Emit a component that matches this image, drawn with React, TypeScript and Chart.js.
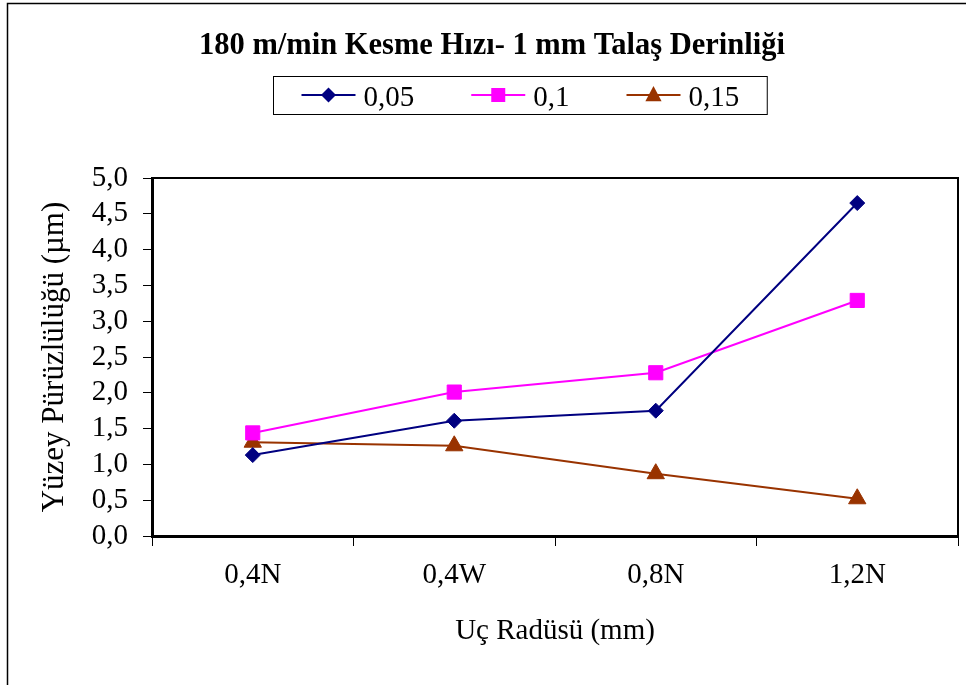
import React, { useEffect, useRef } from "react";
import { Chart, registerables } from "chart.js";

Chart.register(...registerables);

const categories = ["0,4N", "0,4W", "0,8N", "1,2N"];
const seriesLabels = ["0,05", "0,1", "0,15"];
const values005 = [1.13, 1.61, 1.75, 4.65];
const values01 = [1.44, 2.01, 2.28, 3.29];
const values015 = [1.31, 1.26, 0.87, 0.52];
const seriesColors = ["#000080", "#FF00FF", "#993300"];
const seriesMarkers = ["rectRot", "rect", "triangle"];
const yMin = 0;
const yMax = 5;
const yStep = 0.5;

const chartTitle = "180 m/min Kesme Hızı- 1 mm Talaş Derinliği";
const xTitle = "Uç Radüsü (mm)";
const yTitle = "Yüzey Pürüzlülüğü (µm)";

const SERIF = '"Liberation Serif", "Times New Roman", serif';

function drawMarker(ctx: CanvasRenderingContext2D, kind: string, x: number, y: number, color: string) {
  ctx.save();
  ctx.fillStyle = color;
  ctx.beginPath();
  if (kind === "rectRot") {
    const r = 7.5;
    ctx.moveTo(x, y - r);
    ctx.lineTo(x + r, y);
    ctx.lineTo(x, y + r);
    ctx.lineTo(x - r, y);
    ctx.closePath();
  } else if (kind === "rect") {
    const h = 7;
    ctx.rect(x - h, y - h, 2 * h, 2 * h);
  } else {
    const r = 9;
    ctx.moveTo(x, y - r);
    ctx.lineTo(x + r * 0.9, y + r * 0.7);
    ctx.lineTo(x - r * 0.9, y + r * 0.7);
    ctx.closePath();
  }
  ctx.fill();
  ctx.restore();
}

const decorPlugin = {
  id: "decor",
  beforeDatasetsDraw(chart: any) {
    const ctx: CanvasRenderingContext2D = chart.ctx;
    const { left, top, right, bottom } = chart.chartArea;
    ctx.save();
    ctx.strokeStyle = "#000";
    ctx.lineWidth = 2;
    ctx.strokeRect(left, top, right - left, bottom - top);
    ctx.restore();
  },
  afterDraw(chart: any) {
    const ctx: CanvasRenderingContext2D = chart.ctx;
    ctx.save();
    // outer frame
    ctx.strokeStyle = "#000";
    ctx.lineWidth = 1.5;
    ctx.beginPath();
    ctx.moveTo(7.5, 690);
    ctx.lineTo(7.5, 3.5);
    ctx.lineTo(966, 3.5);
    ctx.stroke();

    // title
    ctx.fillStyle = "#000";
    ctx.font = `bold 30.5px ${SERIF}`;
    ctx.textAlign = "center";
    ctx.textBaseline = "alphabetic";
    ctx.fillText(chartTitle, 492, 54);

    // legend
    ctx.font = `29px ${SERIF}`;
    const lineLen = 54;
    const gapText = 8;
    const gapItem = 57;
    const widths = seriesLabels.map((t) => ctx.measureText(t).width);
    const total = widths.reduce((a, w) => a + lineLen + gapText + w, 0) + gapItem * (seriesLabels.length - 1);
    const padX = 28;
    const boxW = total + 2 * padX;
    const cx = 520;
    const boxL = Math.round(cx - boxW / 2) + 0.5;
    ctx.lineWidth = 1;
    ctx.strokeStyle = "#000";
    ctx.strokeRect(boxL, 76.5, boxW, 38);
    let x = boxL + padX;
    const ly = 95;
    seriesLabels.forEach((t, i) => {
      ctx.strokeStyle = seriesColors[i];
      ctx.lineWidth = 2;
      ctx.beginPath();
      ctx.moveTo(x, ly);
      ctx.lineTo(x + lineLen, ly);
      ctx.stroke();
      drawMarker(ctx, seriesMarkers[i], x + lineLen / 2, ly, seriesColors[i]);
      x += lineLen + gapText;
      ctx.fillStyle = "#000";
      ctx.textAlign = "left";
      ctx.textBaseline = "alphabetic";
      ctx.fillText(t, x, 106);
      x += widths[i] + gapItem;
    });
    ctx.restore();
  },
};

export default function App() {
  const canvasRef = useRef<HTMLCanvasElement | null>(null);

  useEffect(() => {
    if (!canvasRef.current) return;
    const allValues = [values005, values01, values015];
    const chart = new Chart(canvasRef.current, {
      type: "line",
      data: {
        labels: categories,
        datasets: seriesLabels.map((label, i) => ({
          label,
          data: allValues[i],
          borderColor: seriesColors[i],
          backgroundColor: seriesColors[i],
          borderWidth: 2,
          pointStyle: seriesMarkers[i] as any,
          pointRadius: i === 0 ? 7.5 : 10,
          pointBackgroundColor: seriesColors[i],
          pointBorderColor: seriesColors[i],
          pointBorderWidth: 1,
          tension: 0,
          fill: false,
        })),
      },
      options: {
        animation: false,
        responsive: false,
        maintainAspectRatio: false,
        layout: { padding: { left: 0, top: 178, right: 7, bottom: 0 } },
        plugins: {
          legend: { display: false },
          title: { display: false },
          tooltip: { enabled: false },
        },
        scales: {
          x: {
            type: "category",
            offset: true,
            grid: {
              display: true,
              offset: true,
              drawOnChartArea: false,
              drawTicks: true,
              tickLength: 10,
              color: "#000",
              tickColor: "#000",
              lineWidth: 1,
            },
            border: { display: true, color: "#000", width: 3 },
            ticks: {
              color: "#000",
              font: { family: SERIF, size: 29 },
              padding: 12,
              maxRotation: 0,
              autoSkip: false,
            },
            title: {
              display: true,
              text: xTitle,
              color: "#000",
              font: { family: SERIF, size: 29 },
              padding: { top: 0, bottom: 36 },
            },
            afterFit: (s: any) => {
              s.height = 149;
            },
          },
          y: {
            min: yMin,
            max: yMax,
            grid: {
              display: true,
              drawOnChartArea: false,
              drawTicks: true,
              tickLength: 9,
              color: "#000",
              tickColor: "#000",
              lineWidth: 1,
            },
            border: { display: true, color: "#000", width: 3 },
            ticks: {
              stepSize: yStep,
              autoSkip: false,
              color: "#000",
              font: { family: SERIF, size: 29 },
              padding: 15,
              callback: (v: any) => Number(v).toFixed(1).replace(".", ","),
            },
            title: {
              display: true,
              text: yTitle,
              color: "#000",
              font: { family: SERIF, size: 31 },
              padding: { top: 36, bottom: 0 },
            },
            afterFit: (s: any) => {
              s.width = 152;
            },
          },
        },
      },
      plugins: [decorPlugin],
    });
    return () => chart.destroy();
  }, []);

  return (
    <div style={{ position: "absolute", left: 0, top: 0, width: 969, height: 685, background: "#fff" }}>
      <canvas ref={canvasRef} width={969} height={685} style={{ width: 969, height: 685, display: "block" }} />
    </div>
  );
}
